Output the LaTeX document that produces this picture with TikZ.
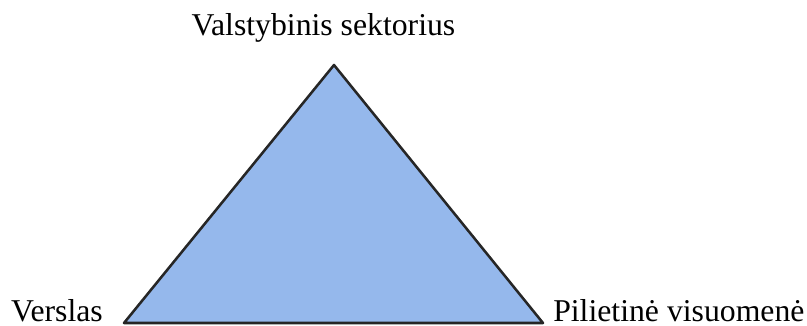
\documentclass[tikz,border=0pt]{standalone}
\usepackage{fontspec}
\setmainfont{Liberation Serif}
\newfontfamily\timesfont{Liberation Serif}
\usetikzlibrary{positioning, calc}
\definecolor{sectorblue}{RGB}{149,184,236}

\begin{document}
\begin{tikzpicture}[
    x=0.75pt, y=-0.75pt,
    tag/.style={
        font=\timesfont\fontsize{23.8}{28}\selectfont,
        inner sep=0pt,
        text=black
    },
    sector/.style={
        fill=sectorblue,
        draw=black!85,
        line width=1.9pt,
        line join=round
    }
]
\useasboundingbox (0,0) rectangle (807,325);

% Corners
\coordinate (apex) at (334,65);
\coordinate (bl) at (124,323);
\coordinate (br) at (543,323);

% Triangle
\draw [sector] (apex) -- (br) -- (bl) -- cycle;

% Labels
\node (state) [tag, anchor=base] at (323.5,35) {Valstybinis sektorius};
\node (business) [tag, anchor=base east] at ($(bl)+(-21,-2)$) {Verslas};
\node (society) [tag, anchor=base west] at ($(br)+(10,-2)$) {Pilietinė visuomenė};

\end{tikzpicture}
\end{document}
